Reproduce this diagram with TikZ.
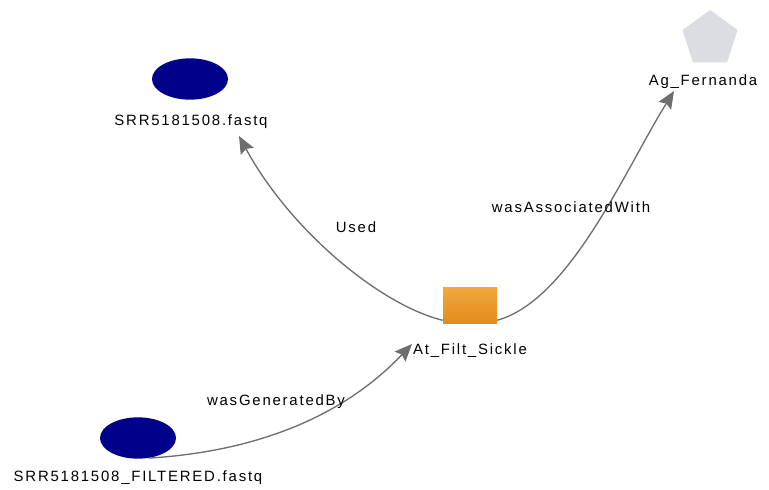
\documentclass[tikz,border=0pt]{standalone}
\usepackage{fontspec}
\setmainfont{Liberation Sans}[LetterSpace=12]
\usetikzlibrary{shapes.geometric,arrows.meta}
\definecolor{entityblue}{HTML}{00008B}
\definecolor{agentgrey}{HTML}{DCDDE2}
\definecolor{acttop}{HTML}{F3A83C}
\definecolor{actbot}{HTML}{E08C1C}
\definecolor{edgegrey}{HTML}{6E6E6E}
\tikzset{
  entity/.style={ellipse, fill=entityblue, minimum width=57pt, minimum height=31pt, inner sep=0pt},
  agent/.style={regular polygon, regular polygon sides=5, fill=agentgrey, minimum size=43.5pt, inner sep=0pt},
  activity/.style={rectangle, top color=acttop, bottom color=actbot, minimum width=40.5pt, minimum height=27pt, inner sep=0pt},
  lbl/.style={font=\fontsize{11.2}{13}\selectfont, text=black, inner sep=1pt},
  rel/.style={draw=edgegrey, line width=1pt, -{Stealth[length=13pt, width=11pt, inset=2pt]}},
}
\begin{document}
\begin{tikzpicture}[x=0.75pt, y=-0.75pt]
\useasboundingbox (0,0) rectangle (769,490);

% entities, agent and activity
\node[entity] (src) at (190,79) {};
\node[lbl] (srclbl) at (191,122) {SRR5181508.fastq};
\node[entity] (filt) at (138,438) {};
\node[lbl] (filtlbl) at (138,478) {SRR5181508\_FILTERED.fastq};
\node[agent] (ag) at (710,39) {};
\node[lbl] (aglbl) at (703,82) {Ag\_Fernanda};
\node[activity] (act) at (470,305) {};
\node[lbl] (actlbl) at (470,351) {At\_Filt\_Sickle};

% arrow ends next to the labels
\coordinate (usedTip) at (239,136);
\coordinate (assocTip) at (674,91);
\coordinate (genTip) at (412,344);

% relations
\draw[rel] (act.south west) ++(0,-3) .. controls (380,305) and (290,230) .. (usedTip);
\draw[rel] (act.south east) ++(0,-3) .. controls (570,300) and (625,170) .. (assocTip);
\draw[rel] (filt.-62) .. controls (250,452) and (340,420) .. (genTip);

% relation labels
\node[lbl] (usedlbl) at (356,227) {Used};
\node[lbl] (assoclbl) at (571,207) {wasAssociatedWith};
\node[lbl] (genlbl) at (276,402) {wasGeneratedBy};
\end{tikzpicture}
\end{document}
